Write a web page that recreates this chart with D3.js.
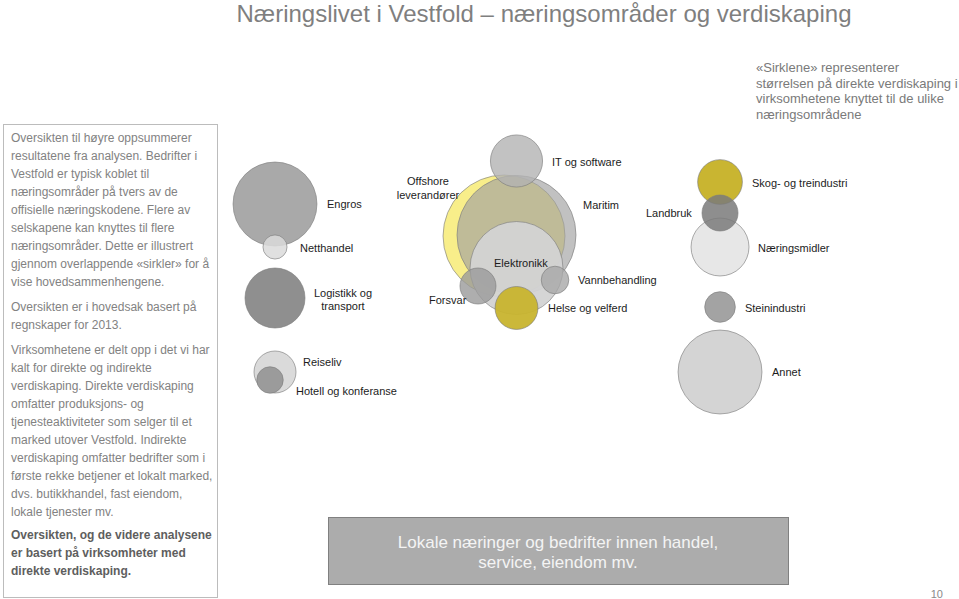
<!DOCTYPE html>
<html><head><meta charset="utf-8">
<script src="https://cdnjs.cloudflare.com/ajax/libs/d3/7.8.5/d3.min.js"></script>
<style>
body{margin:0;background:#fff;}
svg{display:block;font-family:"Liberation Sans",Arial,Helvetica,sans-serif;}
</style></head>
<body><div id="chart"></div>
<script>
// ---- data ----
const categories = ["Engros","Netthandel","Logistikk og transport","Offshore leverandører","Maritim","Elektronikk","IT og software","Forsvar","Vannbehandling","Helse og velferd","Skog- og treindustri","Næringsmidler","Landbruk","Steinindustri","Reiseliv","Hotell og konferanse","Annet"];
// direct value creation (estimated relative size, circle area)
const values = [1760,145,900,3720,3540,2160,680,324,190,460,500,840,324,235,441,175,1760];

// ---- layout (abstract units, mapped through scales) ----
const layoutX = [7.5,7.5,7.5,45.67,47.75,47.75,47.75,41.33,54.17,47.75,81.67,81.67,81.67,81.67,7.5,6.67,81.67];
const layoutY = [24.67,39,56,35.33,35,46,10.33,52,50,59.33,17.33,39,27.67,59,80.67,83.33,80.67];
const fills   = ["#a9a9a9","#dadada","#8f8f8f","#f8ee8a","#9f9f9f","#d3d3d3","#b3b3b3","#9a9a9a","#a8a8a8","#c8b42e","#c9b531","#e6e6e6","#7a7a7a","#a3a3a3","#dadada","#9b9b9b","#d4d4d4"];
const opac    = [1,0.85,1,1,0.65,0.95,0.8,0.8,0.8,0.95,1,0.95,0.85,1,1,1,1];

const labelLines = [["Engros"],["Netthandel"],["Logistikk og","transport"],["Offshore","leverandører"],["Maritim"],["Elektronikk"],["IT og software"],["Forsvar"],["Vannbehandling"],["Helse og velferd"],["Skog- og treindustri"],["Næringsmidler"],["Landbruk"],["Steinindustri"],["Reiseliv"],["Hotell og konferanse"],["Annet"]];
const labelX = [16.17,11.67,18.83,33,58.83,44,53.67,33.17,58,53,87,88,69.33,85.83,12.17,11,90.33];
const labelY = [24.67,39.33,54.33,17,25,44.33,10.67,56.67,50,59.33,17.67,39.33,27.67,59.33,77.33,87,80.67];
const labelAnchor = ["start","start","middle","middle","start","start","start","start","start","start","start","start","start","start","start","start","start"];

const title = "Næringslivet i Vestfold – næringsområder og verdiskaping";
const noteLines = ["«Sirklene» representerer","størrelsen på direkte verdiskaping i","virksomhetene knyttet til de ulike","næringsområdene"];
const para1 = ["Oversikten til høyre oppsummerer","resultatene fra analysen. Bedrifter i","Vestfold er typisk koblet til","næringsområder på tvers av de","offisielle næringskodene. Flere av","selskapene kan knyttes til flere","næringsområder. Dette er illustrert","gjennom overlappende «sirkler» for å","vise hovedsammenhengene."];
const para2 = ["Oversikten er i hovedsak basert på","regnskaper for 2013."];
const para3 = ["Virksomhetene er delt opp i det vi har","kalt for direkte og indirekte","verdiskaping. Direkte verdiskaping","omfatter produksjons- og","tjenesteaktiviteter som selger til et","marked utover Vestfold. Indirekte","verdiskaping omfatter bedrifter som i","første rekke betjener et lokalt marked,","dvs. butikkhandel, fast eiendom,","lokale tjenester mv."];
const para4 = ["Oversikten, og de videre analysene","er basert på virksomheter med","direkte verdiskaping."];
const boxLines = ["Lokale næringer og bedrifter innen handel,","service, eiendom mv."];
const pageNo = "10";

// ---- drawing ----
const W = 959, H = 599;
const svg = d3.select("#chart").append("svg").attr("width", W).attr("height", H);

const x = d3.scaleLinear().domain([0,100]).range([230,830]);
const y = d3.scaleLinear().domain([0,100]).range([130,430]);
const r = d3.scaleSqrt().domain([0,3600]).range([0,60]);

// title
svg.append("text").attr("x", 544).attr("y", 22).attr("text-anchor","middle")
  .attr("font-size", 24).attr("fill","#7f7f7f").text(title);

// note top right
svg.append("g").selectAll("text").data(noteLines).join("text")
  .attr("x", 756).attr("y", (d,i)=>72 + i*15.5).attr("font-size",13).attr("fill","#7a7a7a").text(d=>d);

// left box
svg.append("rect").attr("x",3.5).attr("y",124.5).attr("width",214).attr("height",473)
  .attr("fill","none").attr("stroke","#bcbcbc").attr("stroke-width",1);
function para(lines, y0, bold){
  svg.append("g").selectAll("text").data(lines).join("text")
    .attr("x", 11).attr("y", (d,i)=> y0 + i*18).attr("font-size",12)
    .attr("font-weight", bold ? "bold" : "normal")
    .attr("fill", bold ? "#5e5e5e" : "#828282").text(d=>d);
}
para(para1, 142, false);
para(para2, 311, false);
para(para3, 354, false);
para(para4, 539, true);

// circles
const items = categories.map((c,i)=>({name:c, v:values[i], cx:layoutX[i], cy:layoutY[i], fill:fills[i], op:opac[i]}));
svg.append("g").selectAll("circle").data(items).join("circle")
  .attr("cx", d=>x(d.cx)).attr("cy", d=>y(d.cy)).attr("r", d=>r(d.v))
  .attr("fill", d=>d.fill).attr("fill-opacity", d=>d.op)
  .attr("stroke","#7d7d7d").attr("stroke-width",0.8).attr("stroke-opacity",0.8);

// labels
const lg = svg.append("g").attr("font-size",11).attr("fill","#1c1c1c");
categories.forEach((c,i)=>{
  const t = lg.append("text").attr("x", x(labelX[i])).attr("y", y(labelY[i]))
    .attr("text-anchor", labelAnchor[i]).attr("dominant-baseline","central");
  const lines = labelLines[i];
  const off = -(lines.length-1)*13.5/2;
  lines.forEach((l,j)=>{
    t.append("tspan").attr("x", x(labelX[i])).attr("dy", j===0 ? off : 13.5).text(l);
  });
  if(lines.length>1){ t.attr("y", y(labelY[i]) + 6.75); }
});

// bottom box
svg.append("rect").attr("x",328.5).attr("y",517.5).attr("width",460).attr("height",67)
  .attr("fill","#acacac").attr("stroke","#808080").attr("stroke-width",1);
svg.append("g").selectAll("text").data(boxLines).join("text")
  .attr("x", 558).attr("y",(d,i)=>548 + i*20).attr("text-anchor","middle")
  .attr("font-size",17).attr("fill","#f4f4f4").text(d=>d);

// page number
svg.append("text").attr("x", 943).attr("y", 598).attr("text-anchor","end")
  .attr("font-size",11).attr("fill","#8a8a8a").text(pageNo);
</script></body></html>
